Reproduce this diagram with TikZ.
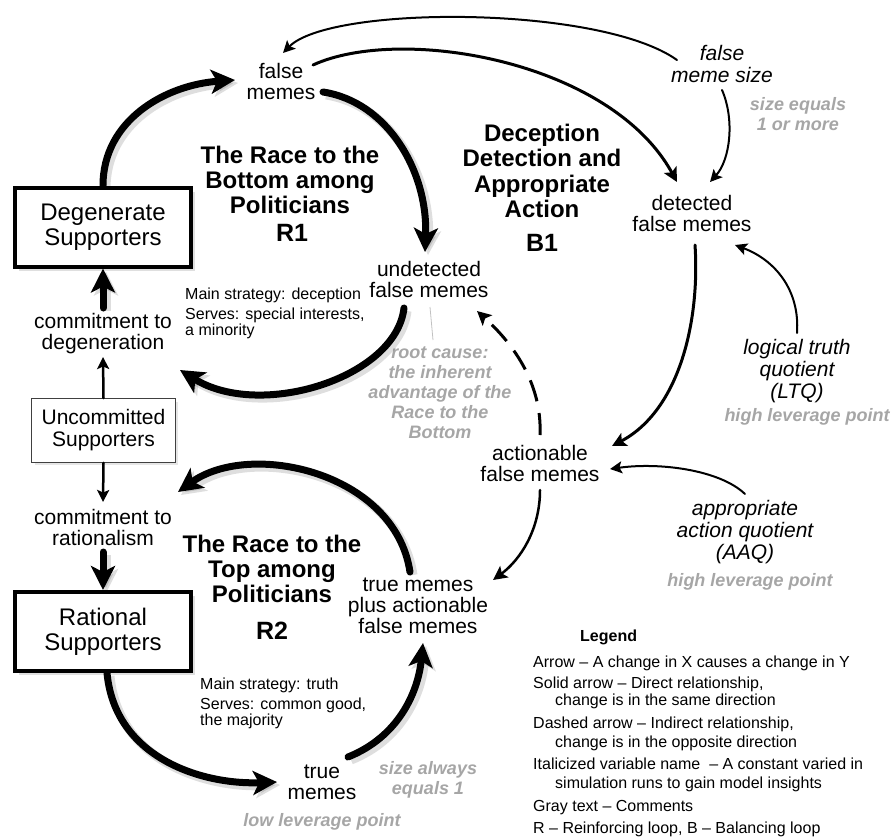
\documentclass[tikz,border=0pt]{standalone}
\usepackage{fontspec}
\setmainfont{Liberation Sans}
\usetikzlibrary{arrows.meta,shadows}
\definecolor{commentgray}{RGB}{166,166,166}
\begin{document}
\begin{tikzpicture}[x=1pt,y=-1pt,
  lbl/.style={inner sep=0pt, align=center, font=\fontsize{21}{21}\selectfont},
  ital/.style={inner sep=0pt, align=center, font=\itshape\fontsize{21}{22}\selectfont},
  note/.style={inner sep=0pt, align=center, text=commentgray, font=\bfseries\itshape\fontsize{18}{20}\selectfont},
  looptitle/.style={inner sep=0pt, align=center, font=\bfseries\fontsize{24}{25.3}\selectfont},
  loopid/.style={inner sep=0pt, font=\bfseries\fontsize{25}{25}\selectfont},
  strat/.style={inner sep=0pt, anchor=base west, font=\fontsize{16}{16}\selectfont},
  leg/.style={inner sep=0pt, anchor=base west, font=\fontsize{16}{16}\selectfont},
  stock/.style={draw, fill=white, line width=4pt, minimum width=176pt, minimum height=79pt,
    inner sep=0pt, align=center, font=\fontsize{24}{25}\selectfont,
    drop shadow={opacity=0.25, shadow xshift=4pt, shadow yshift=-4pt}},
  stockthin/.style={draw=black!75, fill=white, line width=1.3pt, minimum width=143.5pt, minimum height=63.5pt,
    inner sep=0pt, align=center, font=\fontsize{21}{22}\selectfont,
    drop shadow={opacity=0.2, shadow xshift=3pt, shadow yshift=-3pt}},
  bighead/.tip={Stealth[length=24pt,width=24pt,inset=6pt]},
  thick link/.style={line width=7pt, line cap=round, -bighead,
    preaction={draw=black, opacity=0.13, line width=9pt, -bighead,
      transform canvas={shift={(3,3)}}}},
  mid link/.style={line width=3pt, line cap=round, -{Stealth[length=14pt,width=14pt,inset=3pt]}},
  thin link/.style={line width=2pt, line cap=round, -{Stealth[length=12pt,width=12pt,inset=2.5pt]}},
  opp link/.style={line width=3pt, dash pattern=on 22pt off 12pt, -{Stealth[length=14pt,width=14pt,inset=3pt]}}
]
\useasboundingbox (0,0) rectangle (893,838);

% stocks and variables
\node[stock] (deg) at (103,227) {Degenerate\\Supporters};
\node[lbl] (cd) at (103,334) {commitment to\\degeneration};
\node[stockthin] (unc) at (103.5,430.5) {Uncommitted\\Supporters};
\node[lbl] (cr) at (103,527) {commitment to\\rationalism};
\node[stock] (rat) at (103,631.5) {Rational\\Supporters};
\node[lbl] (fm) at (281,81) {false\\memes};
\node[lbl] (ud) at (429,279) {undetected\\false memes};
\node[lbl] (dfm) at (692,213) {detected\\false memes};
\node[lbl] (afm) at (540,463) {actionable\\false memes};
\node[lbl] (tmp) at (418,606) {true memes\\plus actionable\\false memes};
\node[lbl] (tm) at (322,782) {true\\memes};

% constants
\node[ital] (fms) at (722,64) {false\\meme size};
\node[ital] (ltq) at (797,371) {logical truth\\quotient\\(LTQ)};
\node[ital] (aaq) at (745,532) {appropriate\\action quotient\\(AAQ)};

% comments
\node[note] (sizeq) at (798,114) {size equals\\1 or more};
\node[note] (hlp1) at (807,417) {high leverage point};
\node[note] (hlp2) at (750,582) {high leverage point};
\node[note] (rc) at (440,393) {root cause:\\the inherent\\advantage of the\\Race to the\\Bottom};
\node[note] (sza) at (428,780) {size always\\equals 1};
\node[note] (llp) at (322,822) {low leverage point};

% loop titles
\node[looptitle] (t1) at (290,180) {The Race to the\\Bottom among\\Politicians};
\node[loopid] (r1) at (292,233) {R1};
\node[looptitle] (t3) at (542,171) {Deception\\Detection and\\Appropriate\\Action};
\node[loopid] (b1) at (542,243) {B1};
\node[looptitle] (t2) at (272,569) {The Race to the\\Top among\\Politicians};
\node[loopid] (r2) at (272,631) {R2};

% strategy notes
\node[strat] (s1a) at (185,299) {Main strategy: deception};
\node[strat] (s1b) at (185,319) {Serves: special interests,};
\node[strat] (s1c) at (185,335) {a minority};
\node[strat] (s2a) at (200,689) {Main strategy: truth};
\node[strat] (s2b) at (200,709) {Serves: common good,};
\node[strat] (s2c) at (200,725) {the majority};

% legend
\node[leg, font=\bfseries\fontsize{16}{16}\selectfont] (leg0) at (580,641) {Legend};
\node[leg] (leg1) at (533,667) {Arrow – A change in X causes a change in Y};
\node[leg] (leg2) at (533,688) {Solid arrow – Direct relationship,};
\node[leg] (leg3) at (555,705) {change is in the same direction};
\node[leg] (leg4) at (533,728) {Dashed arrow – Indirect relationship,};
\node[leg] (leg5) at (555,747) {change is in the opposite direction};
\node[leg] (leg6) at (533,769) {Italicized variable name\ \ – A constant varied in};
\node[leg] (leg7) at (555,788) {simulation runs to gain model insights};
\node[leg] (leg8) at (533,811) {Gray text – Comments};
\node[leg] (leg9) at (533,833) {R – Reinforcing loop, B – Balancing loop};

% R1 loop
\draw[thick link] (deg.north) .. controls +(0,-65) and +(-70,5) .. ([shift={(-46,-1)}]fm.center);
\draw[thick link] ([shift={(42,11)}]fm.center) .. controls +(65,10) and +(3,-80) .. ([shift={(-4,-27)}]ud.center);
\draw[thick link] ([shift={(-25,29)}]ud.center) .. controls +(-8,70) and +(80,50) .. ([shift={(77,36)}]cd.center);
\draw[thick link] ([shift={(0,-26)}]cd.center) -- (deg.south);

% supporters split
\draw[thin link, line width=2.5pt] (unc.north) -- ([shift={(0,23)}]cd.center);
\draw[thin link, line width=2.5pt] (unc.south) -- ([shift={(0,-25)}]cr.center);

% R2 loop
\draw[thick link] ([shift={(0,25)}]cr.center) -- (rat.north);
\draw[thick link] ([shift={(4,0)}]rat.south) .. controls +(8,85) and +(-75,3) .. ([shift={(-45,0)}]tm.center);
\draw[thick link] ([shift={(26,-25)}]tm.center) .. controls +(50,-20) and +(-5,50) .. ([shift={(5,37)}]tmp.center);
\draw[thick link] ([shift={(-8,-34)}]tmp.center) .. controls +(-15,-100) and +(72,-52) .. ([shift={(75,-35)}]cr.center);

% B1 loop
\draw[mid link] ([shift={(32,-16)}]fm.center) .. controls +(87,-40) and +(-67,-122) .. ([shift={(-15,-31)}]dfm.center);
\draw[thin link] ([shift={(-45,-4)}]fms.center) .. controls +(-77,-55) and +(47,-48) .. ([shift={(2,-28)}]fm.center);
\draw[thin link] ([shift={(0,26)}]fms.center) .. controls +(13,30) and +(20,-22) .. ([shift={(18,-31)}]dfm.center);
\draw[mid link] ([shift={(3,32)}]dfm.center) .. controls +(5,75) and +(68,-36) .. ([shift={(72,-17)}]afm.center);
\draw[thin link] ([shift={(0,-38)}]ltq.center) .. controls +(3,-43) and +(40,15) .. ([shift={(43,32)}]dfm.center);
\draw[thin link] ([shift={(0,-38)}]aaq.center) .. controls +(-25,-24) and +(50,-7) .. ([shift={(70,6)}]afm.center);
\draw[mid link, line width=2.5pt] ([shift={(0,27)}]afm.center) .. controls +(0,40) and +(27,-20) .. ([shift={(75,-26)}]tmp.center);
\draw[opp link] ([shift={(0,-28)}]afm.center) .. controls +(2,-45) and +(43,39) .. ([shift={(48,32)}]ud.center);

% pointer from the comment to its variable
\draw[commentgray!70, line width=0.8pt] ([shift={(1,28)}]ud.center) -- ([shift={(-7,-53)}]rc.center);
\end{tikzpicture}
\end{document}
